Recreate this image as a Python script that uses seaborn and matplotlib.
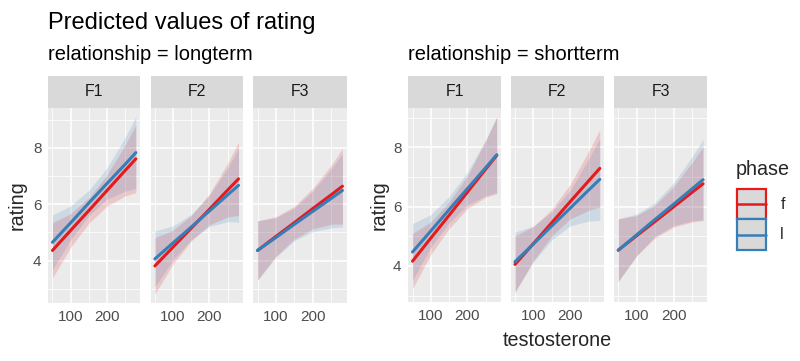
# ============================================================
# Predicted values of rating ~ testosterone
# two groups (relationship) x three facets (F1-F3), hue = phase
# ============================================================

import numpy as np
import pandas as pd
import matplotlib
matplotlib.use('Agg')
import matplotlib.pyplot as plt
import seaborn as sns
from matplotlib.patches import Rectangle
from matplotlib.lines import Line2D
from matplotlib.legend_handler import HandlerBase

# -------------------------------------------------------
# DATA
# -------------------------------------------------------

# x values where the predictions were read
testosterone = [50, 100, 150, 200, 250, 280]
facets = ['F1', 'F2', 'F3']
relationships = ['longterm', 'shortterm']
phases = ['f', 'l']

# each list: F1 values | F2 values | F3 values
long_f_fit = [4.36, 5.07, 5.77, 6.48, 7.19, 7.61,
              3.81, 4.48, 5.15, 5.82, 6.50, 6.90,
              4.36, 4.86, 5.35, 5.85, 6.34, 6.64]
long_f_low = [3.38, 4.47, 5.32, 5.93, 6.29, 6.41,
              2.81, 3.88, 4.70, 5.27, 5.55, 5.60,
              3.31, 4.16, 4.77, 5.13, 5.29, 5.30]
long_f_high = [5.34, 5.67, 6.22, 7.03, 8.09, 8.81,
               4.81, 5.08, 5.60, 6.37, 7.45, 8.20,
               5.41, 5.56, 5.93, 6.57, 7.39, 7.98]

long_l_fit = [4.65, 5.34, 6.04, 6.73, 7.41, 7.83,
              4.06, 4.63, 5.19, 5.76, 6.33, 6.67,
              4.36, 4.82, 5.29, 5.75, 6.21, 6.49]
long_l_low = [3.68, 4.74, 5.59, 6.18, 6.46, 6.56,
              3.07, 4.03, 4.74, 5.21, 5.38, 5.36,
              3.31, 4.12, 4.71, 5.03, 5.16, 5.19]
long_l_high = [5.62, 5.94, 6.49, 7.28, 8.36, 9.10,
               5.05, 5.23, 5.64, 6.31, 7.28, 7.98,
               5.41, 5.52, 5.87, 6.47, 7.26, 7.79]

short_f_fit = [4.16, 4.94, 5.71, 6.49, 7.27, 7.73,
               4.05, 4.75, 5.46, 6.17, 6.87, 7.29,
               4.53, 5.02, 5.50, 5.99, 6.48, 6.77]
short_f_low = [3.23, 4.39, 5.26, 5.94, 6.32, 6.43,
               3.09, 4.17, 5.01, 5.59, 5.87, 5.99,
               3.48, 4.34, 4.95, 5.31, 5.48, 5.53]
short_f_high = [5.09, 5.49, 6.16, 7.04, 8.22, 9.03,
                5.01, 5.33, 5.91, 6.75, 7.87, 8.59,
                5.58, 5.70, 6.05, 6.67, 7.48, 8.01]

short_l_fit = [4.47, 5.18, 5.90, 6.61, 7.32, 7.75,
               4.14, 4.74, 5.35, 5.95, 6.56, 6.92,
               4.53, 5.05, 5.57, 6.08, 6.60, 6.91]
short_l_low = [3.51, 4.63, 5.45, 6.06, 6.37, 6.48,
               3.14, 4.14, 4.88, 5.35, 5.51, 5.54,
               3.47, 4.35, 5.00, 5.36, 5.52, 5.55]
short_l_high = [5.43, 5.73, 6.35, 7.16, 8.27, 9.02,
                5.14, 5.34, 5.82, 6.55, 7.61, 8.30,
                5.59, 5.75, 6.14, 6.80, 7.68, 8.27]

# long table, the way ggeffects would return it
series = [
    ('longterm', 'f', long_f_fit, long_f_low, long_f_high),
    ('longterm', 'l', long_l_fit, long_l_low, long_l_high),
    ('shortterm', 'f', short_f_fit, short_f_low, short_f_high),
    ('shortterm', 'l', short_l_fit, short_l_low, short_l_high),
]
rows = []
for rel, ph, fit, low, high in series:
    for i, fac in enumerate(facets):
        for j, x in enumerate(testosterone):
            k = i * len(testosterone) + j
            rows.append({'relationship': rel, 'facet': fac, 'phase': ph,
                         'testosterone': x, 'predicted': fit[k],
                         'conf_low': low[k], 'conf_high': high[k]})
df = pd.DataFrame(rows)

# -------------------------------------------------------
# STYLE
# -------------------------------------------------------

sns.set_theme(style='darkgrid')
plt.rcParams['font.family'] = ['Liberation Sans', 'DejaVu Sans']

phase_colors = {'f': '#E41A1C', 'l': '#377EB8'}
W, H = 800, 361

def px_box(x0, x1, y0, y1):
    # pixel box (top-left origin) -> figure fraction
    return [x0 / W, 1 - y1 / H, (x1 - x0) / W, (y1 - y0) / H]

panel_x = {'longterm': [(48.3, 140), (150.7, 242.7), (253.3, 346.7)],
           'shortterm': [(408.3, 501), (510.7, 604), (614, 707.3)]}
panel_y = {'longterm': (108, 303), 'shortterm': (108, 301.7)}
strip_top = 76

fig = plt.figure(figsize=(W / 100, H / 100), dpi=100)

# -------------------------------------------------------
# PANELS
# -------------------------------------------------------

x_lo, x_hi = min(testosterone), max(testosterone)
x_pad = (x_hi - x_lo) * 0.05

for rel in relationships:
    sub_rel = df[df['relationship'] == rel]
    y_lo, y_hi = sub_rel['conf_low'].min(), sub_rel['conf_high'].max()
    y_pad = (y_hi - y_lo) * 0.05
    top, bottom = panel_y[rel]

    for i, fac in enumerate(facets):
        x0, x1 = panel_x[rel][i]
        ax = fig.add_axes(px_box(x0, x1, top, bottom))
        sub = sub_rel[sub_rel['facet'] == fac]

        # confidence ribbons first
        for ph in phases:
            d = sub[sub['phase'] == ph]
            ax.fill_between(d['testosterone'], d['conf_low'], d['conf_high'],
                            color=phase_colors[ph], alpha=0.17, linewidth=0)
        # then the prediction lines
        sns.lineplot(data=sub, x='testosterone', y='predicted', hue='phase',
                     hue_order=phases, palette=phase_colors, linewidth=2.2,
                     legend=False, ax=ax)

        ax.set_xlim(x_lo - x_pad, x_hi + x_pad)
        ax.set_ylim(y_lo - y_pad, y_hi + y_pad)
        ax.set_facecolor('#EBEBEB')
        for s in ax.spines.values():
            s.set_visible(False)
        ax.set_xticks([100, 200])
        ax.set_xticks([50, 150, 250], minor=True)
        ax.set_yticks([4, 6, 8])
        ax.set_yticks([3, 5, 7, 9], minor=True)
        ax.grid(which='major', color='white', linewidth=1.1)
        ax.grid(which='minor', color='white', linewidth=0.55)
        ax.set_axisbelow(True)
        ax.set_xlabel('')
        ax.set_ylabel('')
        ax.tick_params(which='major', length=2.9, width=0.8, color='#333333',
                       labelcolor='#4D4D4D', labelsize=11, pad=2)
        ax.tick_params(which='minor', length=0)
        if i > 0:
            ax.tick_params(axis='y', which='major', length=0, labelleft=False)

        # facet strip
        sax = fig.add_axes(px_box(x0, x1, strip_top, top))
        sax.set_facecolor('#D9D9D9')
        sax.set_xticks([])
        sax.set_yticks([])
        for s in sax.spines.values():
            s.set_visible(False)
        sax.text(0.5, 0.5, fac, ha='center', va='center', fontsize=11.4,
                 color='#1A1A1A', transform=sax.transAxes)

# -------------------------------------------------------
# TEXTS
# -------------------------------------------------------

fig.text(48 / W, 1 - 23 / H, 'Predicted values of rating', fontsize=17,
         ha='left', va='center', color='black')
fig.text(48 / W, 1 - 55 / H, 'relationship = longterm', fontsize=14.5,
         ha='left', va='center', color='black')
fig.text(408 / W, 1 - 55 / H, 'relationship = shortterm', fontsize=14.5,
         ha='left', va='center', color='black')
fig.text(17 / W, 1 - 205 / H, 'rating', fontsize=14.2, rotation=90,
         ha='center', va='center')
fig.text(379 / W, 1 - 205 / H, 'rating', fontsize=14.2, rotation=90,
         ha='center', va='center')
fig.text(557.8 / W, 1 - 340.5 / H, 'testosterone', fontsize=14.2,
         ha='center', va='center')

# -------------------------------------------------------
# LEGEND
# -------------------------------------------------------

# ggplot-like key: grey ribbon box with coloured border and a line in the middle
class RibbonKey(HandlerBase):
    def create_artists(self, legend, orig_handle, xdescent, ydescent,
                       width, height, fontsize, trans):
        c = orig_handle.get_color()
        box = Rectangle((-xdescent + 1, -ydescent), width - 2, height,
                        facecolor='#D9D9D9', edgecolor=c, linewidth=1.6,
                        transform=trans)
        mid = -ydescent + height / 2
        line = Line2D([-xdescent + 1, -xdescent + width - 1], [mid, mid],
                      color=c, linewidth=1.8, transform=trans)
        return [box, line]

handles = [Line2D([], [], color=phase_colors[ph]) for ph in phases]
leg = fig.legend(handles, phases, title='phase', loc='upper left',
                 bbox_to_anchor=(736 / W, 1 - 160 / H), frameon=False,
                 fontsize=11.4, title_fontsize=14.2, handlelength=2.0,
                 handleheight=2.6, labelspacing=0.0, handletextpad=0.8,
                 borderpad=0, borderaxespad=0,
                 handler_map={Line2D: RibbonKey()})
leg._legend_box.align = 'left'
leg._legend_box.sep = 7

plt.savefig('out.png', dpi=100)
